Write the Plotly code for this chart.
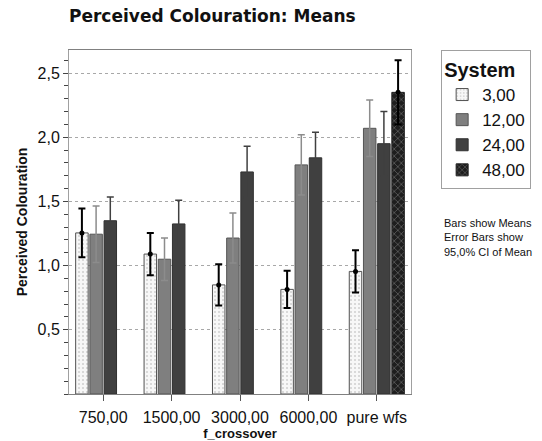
import plotly.graph_objects as go

categories = ["750,00", "1500,00", "3000,00", "6000,00", "pure wfs"]
systems = ["3,00", "12,00", "24,00", "48,00"]

means_3 = [1.255, 1.09, 0.85, 0.815, 0.955]
ci_3 = [0.19, 0.165, 0.16, 0.145, 0.165]
means_12 = [1.245, 1.05, 1.215, 1.785, 2.07]
ci_12 = [0.22, 0.165, 0.195, 0.235, 0.22]
means_24 = [1.35, 1.325, 1.73, 1.84, 1.95]
ci_24 = [0.185, 0.185, 0.2, 0.2, 0.25]
means_48 = [None, None, None, None, 2.35]
ci_48 = [None, None, None, None, 0.25]

y_ticks = [0.5, 1.0, 1.5, 2.0, 2.5]

means = [means_3, means_12, means_24, means_48]
cis = [ci_3, ci_12, ci_24, ci_48]

fills = ["#f7f7f7", "#7f7f7f", "#404040", "#1e1e1e"]
lines = ["#505050", "#555555", "#303030", "#202020"]
patterns = [
    dict(shape=".", fgcolor="#a8a8a8", bgcolor="#f7f7f7", size=4, solidity=0.2),
    dict(shape=""),
    dict(shape=""),
    dict(shape="x", fgcolor="#9a9a9a", bgcolor="#1e1e1e", size=5, solidity=0.3),
]
err_colors = ["#000000", "#8c8c8c", "#404040", "#000000"]
err_thick = [2, 1.5, 1.5, 2]
dot_size = [5, 0, 0, 5]

fig = go.Figure()
for name, m, c, f, lc, p, ec, et in zip(systems, means, cis, fills, lines, patterns, err_colors, err_thick):
    fig.add_trace(go.Bar(
        x=categories, y=m, name=name,
        marker=dict(color=f, line=dict(color=lc, width=1), pattern=p),
        error_y=dict(type="data", array=c, visible=True, color=ec, thickness=et, width=3.5),
    ))
for name, m, ds in zip(systems, means, dot_size):
    fig.add_trace(go.Scatter(
        x=categories, y=m, mode="markers", showlegend=False, hoverinfo="skip",
        marker=dict(color="#000000", size=max(ds, 0.1), opacity=1 if ds else 0),
    ))

fig.update_layout(
    width=542, height=441,
    margin=dict(l=69, r=130, t=50, b=47),
    paper_bgcolor="white", plot_bgcolor="white",
    barmode="group", bargap=0.17, bargroupgap=0.12,
    scattermode="group", scattergap=0.17,
    separators=",.",
    font=dict(family="Liberation Sans, Arial, sans-serif", color="#111111"),
    title=dict(
        text="<b>Perceived Colouration: Means</b>",
        font=dict(family="DejaVu Sans", size=17, color="#111111"),
        xref="paper", x=0, xanchor="left",
        yref="container", y=1 - 16 / 441, yanchor="middle",
    ),
    legend=dict(
        title=dict(text="<b>System</b>", font=dict(size=20), side="top"),
        font=dict(size=17, color="#111111"),
        x=1.085, xanchor="left", y=1, yanchor="top",
        bordercolor="#a0a0a0", borderwidth=1, bgcolor="white",
        tracegroupgap=0, itemwidth=30,
    ),
    annotations=[dict(
        text="Bars show Means<br>Error Bars show<br>95,0% CI of Mean",
        xref="paper", yref="paper", x=1.09, y=0.52, xanchor="left", yanchor="top",
        align="left", showarrow=False,
        font=dict(size=11, color="#111111"),
    )],
)

fig.update_xaxes(
    automargin=False,
    showline=True, linecolor="#808080", linewidth=1, mirror=True,
    ticks="outside", ticklen=6, tickcolor="#555555",
    ticklabelstandoff=3,
    tickfont=dict(size=16, color="#111111"),
    title=dict(text="<b>f_crossover</b>", font=dict(size=13, color="#111111"), standoff=4),
)
fig.update_yaxes(
    automargin=False,
    range=[0, 2.68],
    tickmode="array", tickvals=y_ticks, tickformat=".1f",
    showline=True, linecolor="#a0a0a0", linewidth=1, mirror=True,
    ticks="outside", ticklen=5, tickcolor="#444444",
    tickfont=dict(size=16, color="#111111"),
    showgrid=True, gridcolor="#a8a8a8", griddash="dot", gridwidth=1,
    zeroline=False,
    minor=dict(tickmode="linear", tick0=0, dtick=0.1, ticks="outside", ticklen=4, tickcolor="#444444", showgrid=False),
    title=dict(text="<b>Perceived Colouration</b>", font=dict(size=14, color="#111111"), standoff=6),
)

fig.write_html("out.html")
